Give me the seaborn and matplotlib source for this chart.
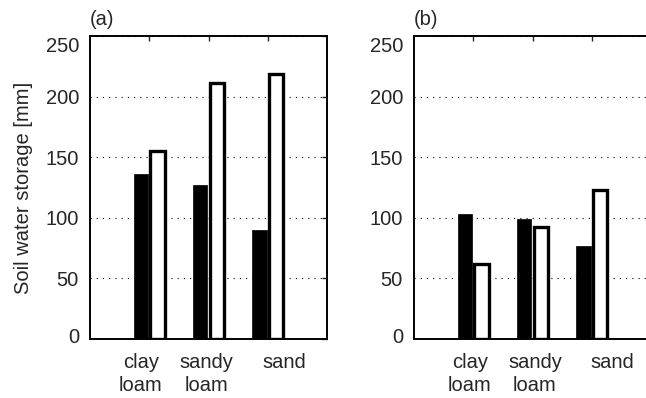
import matplotlib
matplotlib.use("Agg")
import matplotlib.pyplot as plt
import matplotlib.transforms as mtransforms
import pandas as pd
import seaborn as sns

# Soil classes and storage values [mm] for the two panels
soils = ["clay loam", "sandy loam", "sand"]
soil_labels = ["clay\nloam", "sandy\nloam", "sand"]
panel_a_solid = [136, 127, 90]
panel_a_open = [155, 211, 219]
panel_b_solid = [103, 99, 77]
panel_b_open = [62, 92, 123]
y_ticks = [0, 50, 100, 150, 200, 250]

sns.set_style("white")
plt.rcParams["font.family"] = ["Liberation Sans", "DejaVu Sans"]
plt.rcParams["font.size"] = 14.5

fig = plt.figure(figsize=(6.46, 3.98), dpi=100)
W, H = 646, 398
ax_top, ax_bot = 36, 339
px_per_unit = 59.25          # horizontal pixels per category step
a_left, b_left = 90, 414
a_width = 4 * px_per_unit    # x range -1 .. 3
b_width = W - b_left + 2     # right part runs off the figure edge
axes = [
    fig.add_axes([a_left / W, (H - ax_bot) / H, a_width / W, (ax_bot - ax_top) / H]),
    fig.add_axes([b_left / W, (H - ax_bot) / H, b_width / W, (ax_bot - ax_top) / H]),
]
xlims = [(-1, 3), (-1, -1 + b_width / px_per_unit)]

panels = [
    ("(a)", panel_a_solid, panel_a_open, [-0.14, 0.97, 2.28]),
    ("(b)", panel_b_solid, panel_b_open, [-0.055, 1.04, 2.34]),
]

for ax, xl, (tag, solid, opened, label_x) in zip(axes, xlims, panels):
    df = pd.DataFrame({
        "soil": soils * 2,
        "storage": solid + opened,
        "kind": ["solid"] * 3 + ["open"] * 3,
    })
    sns.barplot(data=df, x="soil", y="storage", hue="kind",
                palette={"solid": "black", "open": "white"},
                width=0.56, gap=0.14, legend=False, ax=ax)
    # solid bars get a thin edge, open bars a heavy outline
    for cont, lw in zip(ax.containers, [0.5, 2.4]):
        for bar in cont:
            bar.set_edgecolor("black")
            bar.set_linewidth(lw)
            bar.set_zorder(3)

    ax.set_xlim(*xl)
    ax.set_ylim(0, 250)
    ax.set_yticks(y_ticks)
    ax.set_xticks(range(len(soils)))
    ax.set_xticklabels([])
    ax.set_xlabel("")
    ax.set_ylabel("")
    ax.set_axisbelow(True)
    ax.yaxis.grid(True, linestyle=(0, (1, 4.6)), color="black", linewidth=0.8)
    ax.xaxis.grid(False)
    ax.tick_params(direction="in", top=True, right=True, length=3.5,
                   width=1.0, pad=8, labelsize=14.5)
    for sp in ax.spines.values():
        sp.set_linewidth(1.4)
        sp.set_color("black")
        sp.set_visible(True)

    # keep the end labels inside the axis span
    ticks = ax.yaxis.get_major_ticks()
    ticks[-1].label1.set_transform(ticks[-1].label1.get_transform() +
                                   mtransforms.ScaledTranslation(0, -0.08, fig.dpi_scale_trans))
    ticks[0].label1.set_transform(ticks[0].label1.get_transform() +
                                  mtransforms.ScaledTranslation(0, 0.035, fig.dpi_scale_trans))

    # category names under the axis
    trans = mtransforms.blended_transform_factory(ax.transData, ax.transAxes)
    for x, lab in zip(label_x, soil_labels):
        for i, line in enumerate(lab.split("\n")):
            ax.text(x, -0.0957 - 0.076 * i, line, transform=trans,
                    ha="center", va="baseline", fontsize=14.5)

    ax.text(0.0, 1.055, tag, transform=ax.transAxes, ha="left",
            va="center", fontsize=14.5)

# panel (b) is cut at the figure edge: no closing frame on the right
axes[1].spines["right"].set_visible(False)
axes[1].tick_params(right=False)

axes[0].set_ylabel("Soil water storage [mm]", fontsize=14.5, labelpad=9)

fig.savefig("out.png", dpi=100)
